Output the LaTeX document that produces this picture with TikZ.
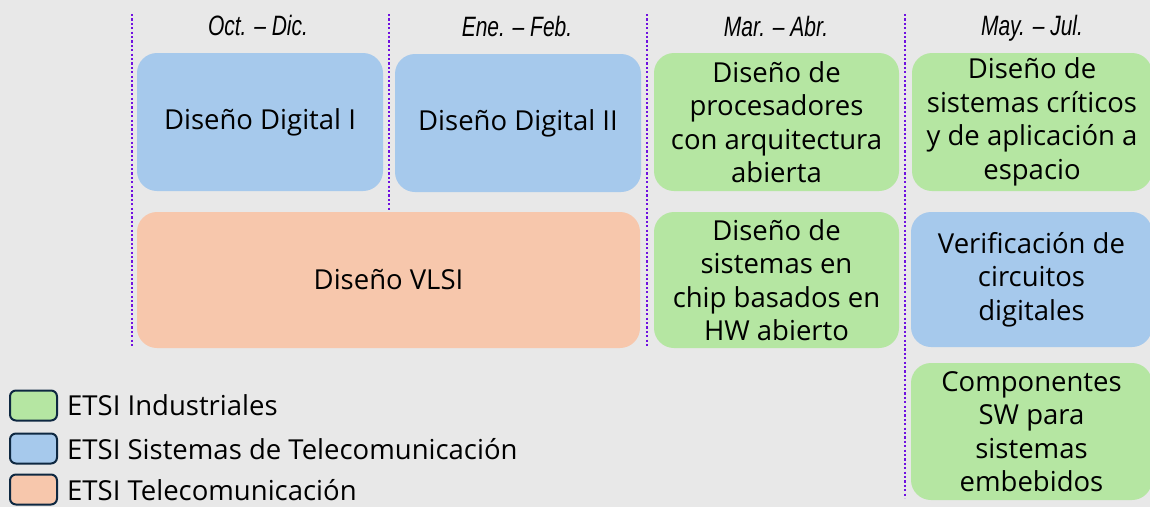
\documentclass[tikz,border=0pt]{standalone}
\usepackage{fontspec}
\setmainfont{Open Sans}
\newfontfamily\hdrfont[FakeStretch=0.75]{Liberation Sans}
\definecolor{bg}{HTML}{E8E8E8}
\definecolor{cblue}{HTML}{A6C9EC}
\definecolor{cgreen}{HTML}{B5E6A2}
\definecolor{corange}{HTML}{F7C7AC}
\definecolor{cviolet}{HTML}{7010E0}
\definecolor{cnavy}{HTML}{0E2841}
\newcommand{\bodyfont}{\fontsize{27.5}{33.5}\selectfont}
\begin{document}
\begin{tikzpicture}[x=1pt,y=-1pt,
  course/.style={rounded corners=20pt, align=center, inner sep=0pt, font=\bodyfont, text=black},
  sep/.style={cviolet, line width=2.2pt, dash pattern=on 2.2pt off 2.2pt},
  hdr/.style={anchor=base, font=\hdrfont\itshape\fontsize{28}{32}\selectfont},
  legbox/.style={draw=cnavy, line width=2pt, rounded corners=6pt, minimum width=47pt, minimum height=30pt, inner sep=0pt},
  legtxt/.style={anchor=base west, font=\bodyfont, inner sep=0pt}]
\fill[bg] (0,0) rectangle (1150,507);
\useasboundingbox (0,0) rectangle (1150,507);
% columns
\coordinate (s1t) at (132,14); \coordinate (s1b) at (132,347);
\coordinate (s2t) at (389,14); \coordinate (s2b) at (389,212);
\coordinate (s3t) at (647,14); \coordinate (s3b) at (647,348);
\coordinate (s4t) at (905,14); \coordinate (s4b) at (905,498);
\draw[sep] (s1t) -- (s1b);
\draw[sep] (s2t) -- (s2b);
\draw[sep] (s3t) -- (s3b);
\draw[sep] (s4t) -- (s4b);
% headers
\node[hdr] (h1) at (258,35) {Oct. – Dic.};
\node[hdr] (h2) at (517,36) {Ene. – Feb.};
\node[hdr] (h3) at (776,36) {Mar. – Abr.};
\node[hdr] (h4) at (1032,35) {May. – Jul.};
% courses
\node[course, fill=cblue, minimum width=246pt, minimum height=138pt] (dd1) at (260,122) {Diseño Digital I};
\node[course, fill=cblue, minimum width=246pt, minimum height=138pt] (dd2) at (518,123) {Diseño Digital II};
\node[course, fill=cgreen, minimum width=245pt, minimum height=138pt] (proc) at (776.5,122) {Diseño de\\procesadores\\con arquitectura\\abierta};
\node[course, fill=cgreen, minimum width=240pt, minimum height=138pt] (crit) at (1032,122) {Diseño de\\sistemas críticos\\y de aplicación a\\espacio};
\node[course, fill=corange, minimum width=503pt, minimum height=136pt] (vlsi) at (388.5,280) {Diseño VLSI};
\node[course, fill=cgreen, minimum width=245pt, minimum height=136pt] (chip) at (776.5,280) {Diseño de\\sistemas en\\chip basados en\\HW abierto};
\node[course, fill=cblue, minimum width=241pt, minimum height=135pt] (veri) at (1031.5,279.5) {Verificación de\\circuitos\\digitales};
\node[course, fill=cgreen, minimum width=241pt, minimum height=137pt] (comp) at (1031.5,431.5) {Componentes\\SW para\\sistemas\\embebidos};
% legend
\node[legbox, fill=cgreen] (l1) at (33.5,405.5) {};
\node[legbox, fill=cblue] (l2) at (33.5,448.5) {};
\node[legbox, fill=corange] (l3) at (33.5,489.5) {};
\node[legtxt] (t1) at (67,415) {ETSI Industriales};
\node[legtxt] (t2) at (67,459) {ETSI Sistemas de Telecomunicación};
\node[legtxt] (t3) at (67,500) {ETSI Telecomunicación};
\end{tikzpicture}
\end{document}
